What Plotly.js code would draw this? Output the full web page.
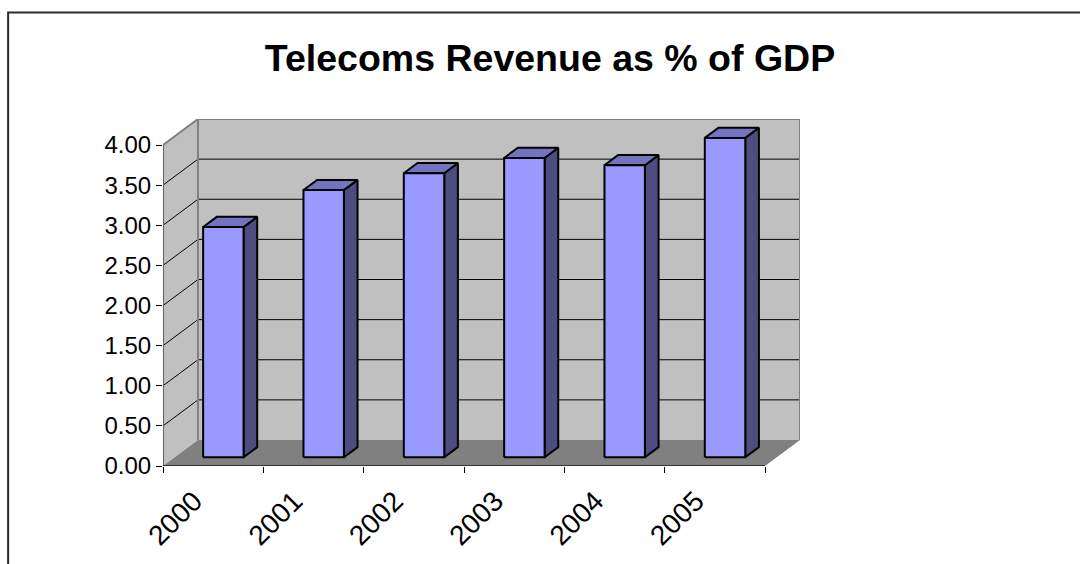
<!DOCTYPE html>
<html>
<head>
<meta charset="utf-8">
<script src="https://cdn.plot.ly/plotly-3.0.1.min.js"></script>
<style>html,body{margin:0;padding:0;background:#fff;overflow:hidden}#c{width:1080px;height:564px}</style>
</head>
<body>
<div id="c"></div>
<script>
var categories = ["2000","2001","2002","2003","2004","2005"];
var values = [2.87, 3.33, 3.54, 3.73, 3.64, 3.98];
var yTicks = [0,0.5,1,1.5,2,2.5,3,3.5,4];

// chart-box layout in pixels
var L=162.5,T=119.4,W=637.5,H=347;
var nCat=categories.length, yMax=4;
// oblique depth of the 3D box, in axis units
var DX=35/100.4, DY=26/80.25;
// bar placement within a category and along the depth
var barLeft=0.40, barW=0.403, dFront=0.335, dBar=0.39;

function poly(pts,fill,lc,lw){
  return {type:'scatter',mode:'lines',x:pts.map(function(p){return p?p[0]:null}),y:pts.map(function(p){return p?p[1]:null}),
    fill:fill?'toself':'none',fillcolor:fill||undefined,line:{color:lc||'rgba(0,0,0,0)',width:lw||0,simplify:false},
    hoverinfo:'skip',showlegend:false,cliponaxis:false,connectgaps:false};
}
var traces=[];
// back wall, side wall, floor
traces.push(poly([[DX,DY],[nCat+DX,DY],[nCat+DX,yMax+DY],[DX,yMax+DY],[DX,DY]],'#C0C0C0'));
traces.push(poly([[0,0],[DX,DY],[DX,yMax+DY],[0,yMax],[0,0]],'#C0C0C0'));
// gridlines on the walls
var g=[];
yTicks.slice(1,-1).forEach(function(v){g.push([0,v],[DX,v+DY],[nCat+DX,v+DY],null)});
traces.push(poly(g,null,'#000',1));
// wall edges
traces.push(poly([[0,yMax],[DX,yMax+DY],[nCat+DX,yMax+DY],[nCat+DX,DY]],null,'#808080',2));
traces.push(poly([[DX,yMax+DY],[DX,DY]],null,'#808080',2));
traces.push(poly([[0,0],[DX,DY],[nCat+DX,DY],[nCat,0],[0,0]],'#808080'));
// bars
var side=[],top_=[],front=[];
values.forEach(function(v,i){
  var x0=i+barLeft+0, x1=x0+barW, y0=dFront*DY, y1=y0+v, dx=dBar*DX, dy=dBar*DY;
  side.push([x1,y0],[x1+dx,y0+dy],[x1+dx,y1+dy],[x1,y1],[x1,y0],null);
  top_.push([x0,y1],[x1,y1],[x1+dx,y1+dy],[x0+dx,y1+dy],[x0,y1],null);
  front.push([x0,y0],[x1,y0],[x1,y1],[x0,y1],[x0,y0],null);
});
traces.push(poly(side,'#4D4D80','#000',2));
traces.push(poly(top_,'#7373BF','#000',2));
traces.push(poly(front,'#9999FF','#000',2));
// dummy trace binding the label axis
traces.push({type:'scatter',mode:'none',x:[0.5],y:[0],xaxis:'x2',yaxis:'y',hoverinfo:'skip',showlegend:false});

var xTicks=categories.map(function(c,i){return i}).concat([nCat]);
var layout={
  width:1080,height:564,
  margin:{l:L,t:T,r:1080-L-W,b:564-T-H,pad:0},
  paper_bgcolor:'#fff',plot_bgcolor:'rgba(0,0,0,0)',showlegend:false,
  font:{family:'"Liberation Sans",Arial,sans-serif',color:'#000'},
  title:{text:'<b>Telecoms Revenue as % of GDP</b>',font:{size:37.5,color:'#000',family:'"Liberation Sans",Arial,sans-serif'},
    x:550/1080,xanchor:'center',xref:'container',y:1-58/564,yanchor:'middle',yref:'container'},
  xaxis:{range:[0,nCat+DX],tickmode:'array',tickvals:xTicks,ticktext:xTicks.map(function(){return ''}),ticks:'outside',ticklen:6,tickwidth:1,tickcolor:'#000',
    showgrid:false,zeroline:false,showline:false,fixedrange:true},
  xaxis2:{overlaying:'x',matches:'x',anchor:'y',side:'bottom',range:[0,nCat+DX],tickmode:'array',
    tickvals:categories.map(function(c,i){return i+0.31}),ticktext:categories,tickangle:-45,ticks:'',
    tickfont:{size:28,color:'#000'},ticklabelstandoff:12,showgrid:false,zeroline:false,showline:false,fixedrange:true},
  yaxis:{range:[0,yMax+DY],tickmode:'array',tickvals:yTicks,ticktext:yTicks.map(function(v){return v.toFixed(2)}),ticks:'outside',ticklen:6,tickwidth:1,tickcolor:'#000',
    tickfont:{size:24,color:'#000'},showgrid:false,zeroline:false,showline:false,fixedrange:true},
  shapes:[{type:'rect',xref:'paper',yref:'paper',layer:'below',
    x0:(7.5-L)/W,x1:(1200-L)/W,y0:(T+H-700)/H,y1:(T+H-13)/H,line:{color:'#2b2b2b',width:2},fillcolor:'rgba(0,0,0,0)'},
    // front axis lines
    {type:'line',xref:'x',yref:'y',layer:'above',x0:0,x1:0,y0:0,y1:yMax,line:{color:'#606060',width:2}},
    {type:'line',xref:'x',yref:'y',layer:'above',x0:0,x1:nCat,y0:0,y1:0,line:{color:'#333',width:2}}]
};
Plotly.newPlot('c',traces,layout,{displayModeBar:false,staticPlot:true});
</script>
</body>
</html>
